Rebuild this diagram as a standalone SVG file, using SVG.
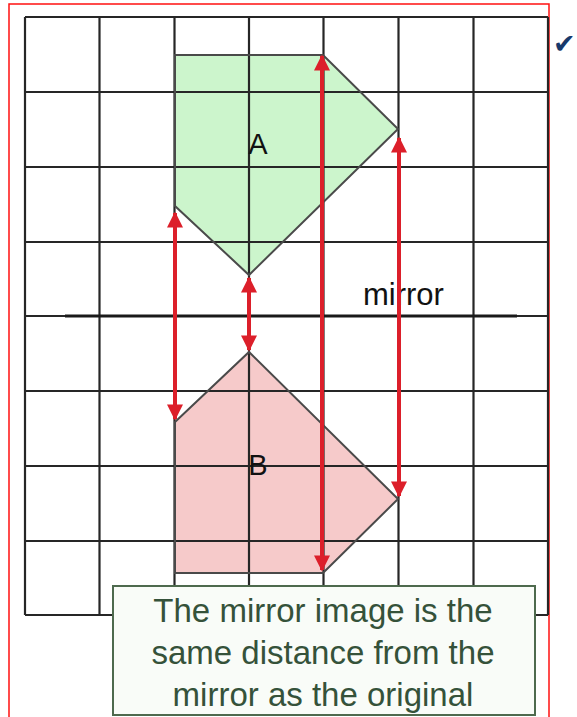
<svg xmlns="http://www.w3.org/2000/svg" width="577" height="717" viewBox="0 0 577 717">
<style>
.grid line{stroke:#262626;stroke-width:2.2}
.shape{stroke:#4a4a4a;stroke-width:2;fill:none}
.arrow{stroke:#dc1f2a;stroke-width:4;marker-start:url(#ah);marker-end:url(#ah)}
.lbl{font-family:"Liberation Sans",Arial,sans-serif;fill:#111}
.note{font-family:"Liberation Sans",Arial,sans-serif;font-size:33px;fill:#35523a;text-anchor:middle}
</style>
<defs>
<marker id="ah" viewBox="0 0 10 10" refX="9" refY="5" markerWidth="4.5" markerHeight="4" orient="auto-start-reverse" markerUnits="strokeWidth">
<path d="M0,0 L10,5 L0,10 z" fill="#dc1f2a"/>
</marker>
</defs>
<rect x="0" y="0" width="577" height="717" fill="#fff"/>
<rect x="9" y="4" width="540" height="720" fill="none" stroke="#ff1010" stroke-width="1.5"/>
<g id="shapeA-fill"><polygon points="175,55 323,55 398,129 249,275 175,206" fill="#ccf5cc"/></g>
<g id="shapeB-fill"><polygon points="175,422 249,352 398,499 323,573 175,573" fill="#f6caca"/></g>
<g id="grid" class="grid">
<line x1="25" y1="17" x2="548" y2="17"/>
<line x1="25" y1="92" x2="548" y2="92"/>
<line x1="25" y1="167" x2="548" y2="167"/>
<line x1="25" y1="242" x2="548" y2="242"/>
<line x1="25" y1="316" x2="548" y2="316"/>
<line x1="25" y1="391" x2="548" y2="391"/>
<line x1="25" y1="466" x2="548" y2="466"/>
<line x1="25" y1="541" x2="548" y2="541"/>
<line x1="25" y1="615" x2="548" y2="615"/>
<line x1="25" y1="17" x2="25" y2="615"/>
<line x1="99.5" y1="17" x2="99.5" y2="615"/>
<line x1="174.5" y1="17" x2="174.5" y2="615"/>
<line x1="249" y1="17" x2="249" y2="615"/>
<line x1="323.5" y1="17" x2="323.5" y2="615"/>
<line x1="398.5" y1="17" x2="398.5" y2="615"/>
<line x1="473.5" y1="17" x2="473.5" y2="615"/>
<line x1="548" y1="17" x2="548" y2="615"/>
</g>
<g id="shapeA"><polygon class="shape" points="175,55 323,55 398,129 249,275 175,206"/><text class="lbl" x="258" y="154" font-size="29" text-anchor="middle">A</text></g>
<g id="shapeB"><polygon class="shape" points="175,422 249,352 398,499 323,573 175,573"/><text class="lbl" x="258" y="475" font-size="29" text-anchor="middle">B</text></g>
<g id="mirror"><line x1="65" y1="316" x2="517" y2="316" stroke="#1a1a1a" stroke-width="3"/><text class="lbl" x="363" y="305" font-size="31" fill="#222">mirror</text></g>
<g id="connectors">
<line class="arrow" x1="175" y1="213" x2="175" y2="419"/>
<line class="arrow" x1="249" y1="278" x2="249" y2="350"/>
<line class="arrow" x1="322" y1="56" x2="322" y2="570"/>
<line class="arrow" x1="399" y1="138" x2="399" y2="496"/>
</g>
<g id="note">
<rect x="113" y="586" width="422" height="129" fill="#f9fcf8" stroke="#4e6a4e" stroke-width="2"/>
<text class="note" x="323" y="622">The mirror image is the</text>
<text class="note" x="323" y="664">same distance from the</text>
<text class="note" x="323" y="706">mirror as the original</text>
</g>
<g id="check"><text x="553" y="53" font-family="DejaVu Sans,sans-serif" font-size="27" fill="#17396b">✔</text></g>
</svg>
